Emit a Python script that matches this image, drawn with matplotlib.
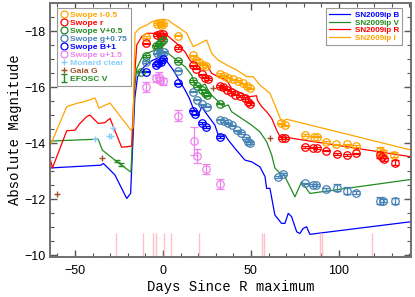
import matplotlib.pyplot as plt
from matplotlib.lines import Line2D
from matplotlib.ticker import MultipleLocator

# ---- SN2009ip light curves (lines) ----
B_day = [-64.2, -35.2, -33.9, -30.1, -27.3, -20.6, -18.4, -16.0, -14.5, -12.5, -9.5, -6.0, -2.5, 0.5,
         3.0, 5.9, 8.7, 12.5, 15.0, 17.2, 20.1, 22.0, 23.9, 26.7, 29.5, 31.4, 35.2, 37.1, 40.9, 46.6,
         50.4, 55.1, 58.0, 58.9, 60.8, 63.6, 67.4, 69.3, 71.2, 73.1, 76.0, 77.8, 79.7, 81.6, 83.5, 141]
B_mag = [-13.11, -13.21, -13.27, -13.04, -12.86, -12.02, -12.20, -15.6, -16.35, -16.6, -16.8, -16.95,
         -17.05, -17.05, -16.85, -16.6, -16.3, -15.9, -15.6, -15.24, -15.0, -15.30, -15.12, -14.88,
         -14.64, -14.29, -14.29, -14.11, -13.81, -13.39, -13.33, -13.15, -12.80, -12.38, -12.38, -11.43,
         -11.13, -11.13, -11.49, -11.37, -10.83, -10.77, -10.95, -11.01, -10.74, -11.19]

V_day = [-64.2, -36.8, -34.5, -27.3, -23.5, -18.2, -16.0, -14.9, -12.1, -9.3, -4.5, 0.2, 3.0, 7.8,
         12.5, 16.3, 18.2, 21.0, 23.9, 26.7, 29.5, 34.3, 37.1, 39.0, 44.7, 50.4, 55.1, 58.9, 61.8,
         63.6, 66.5, 68.4, 75.0, 78.8, 83.5, 141]
V_mag = [-14.07, -14.14, -13.75, -13.39, -13.21, -12.96, -16.0, -16.67, -17.03, -17.20, -17.32,
         -17.26, -17.20, -16.96, -16.73, -16.43, -16.07, -16.01, -16.11, -15.77, -15.60, -15.30,
         -15.36, -15.12, -14.88, -14.64, -14.40, -14.05, -13.57, -13.11, -12.92, -12.92, -12.08,
         -12.62, -12.20, -12.70]

R_day = [-64.2, -62.8, -54.7, -50.0, -47.2, -45.3, -43.4, -41.5, -36.8, -33.0, -30.1, -23.5, -17.8,
         -16.0, -14.9, -12.1, -9.3, -3.6, 0.2, 2.1, 7.8, 12.5, 15.3, 17.2, 24.8, 27.7, 31.4, 36.2,
         39.0, 44.7, 48.5, 53.2, 53.6, 56.1, 58.9, 61.8, 64.6, 66.5, 70.3, 141]
R_mag = [-13.46, -13.11, -14.44, -14.46, -14.70, -14.82, -14.94, -15.0, -14.70, -14.73, -14.88,
         -13.85, -13.89, -16.5, -17.50, -17.80, -17.92, -17.92, -17.92, -17.86, -17.56, -17.26,
         -16.96, -16.85, -16.81, -16.49, -16.37, -16.25, -15.95, -15.77, -15.65, -15.69, -15.54,
         -15.30, -15.12, -14.88, -14.46, -14.23, -14.20, -13.51]

I_day = [-64.2, -54.7, -48.3, -45.5, -38.6, -36.4, -30.1, -18.2, -17.0, -15.9, -13.1, -9.3, -6.4,
         -3.6, 0.2, 3.0, 5.9, 9.7, 13.5, 17.2, 24.8, 27.7, 31.4, 36.2, 41.9, 47.6, 51.3, 55.1, 60.8,
         63.6, 67.4, 70.3, 141]
I_mag = [-13.89, -15.30, -15.43, -15.46, -15.61, -15.25, -15.43, -14.46, -14.57, -17.93, -18.11,
         -18.21, -18.33, -18.39, -18.42, -18.39, -18.25, -18.10, -17.92, -17.44, -17.68, -17.20,
         -16.96, -16.79, -16.61, -16.37, -16.37, -16.07, -15.78, -15.36, -14.76, -14.85, -13.75]

# ---- Swope photometry (offset) ----
si_day = [-9.5, -3.2, -1.5, 0.0, -0.9, 8.6, 17.3, 19.0, 20.7, 22.7, 24.7, 32.4, 34.7, 37.1, 39.9,
          42.8, 45.6, 47.9, 49.3, 67.0, 69.3, 80.7, 85.8, 87.5, 92.6, 98.6, 104.4, 109.7, 123.3,
          125.0, 131.3]
si_mag = [-17.78, -18.25, -18.28, -18.25, -18.20, -17.84, -17.13, -16.98, -16.88, -16.80, -16.75,
          -16.46, -16.41, -16.34, -16.27, -16.21, -16.13, -16.03, -15.95, -14.70, -14.63, -14.29,
          -14.23, -14.23, -14.04, -13.95, -13.95, -13.89, -13.71, -13.66, -13.59]
si_err = [0.03] * 28 + [0.15, 0.08, 0.1]

sr_day = [-9.5, -3.2, -1.9, 0.0, -1.1, 8.6, 17.3, 19.0, 21.9, 23.9, 25.7, 32.4, 34.3, 36.5, 38.6,
          41.2, 44.0, 46.6, 48.6, 49.4, 67.4, 69.3, 80.7, 85.4, 87.3, 92.8, 98.7, 104.5, 109.7,
          123.6, 124.3, 125.6, 131.8]
sr_mag = [-17.56, -17.86, -17.89, -17.89, -17.80, -17.39, -16.77, -16.66, -16.45, -16.34, -16.29,
          -16.04, -15.99, -15.91, -15.82, -15.73, -15.68, -15.61, -15.48, -15.39, -14.17, -14.17,
          -13.86, -13.84, -13.82, -13.73, -13.61, -13.58, -13.63, -13.57, -13.51, -13.42, -13.30]
sr_err = [0.03] * 29 + [0.12, 0.05, 0.05, 0.08]

sV_day = [-12.3, -9.5, -3.8, -2.4, -1.0, 0.0, -3.1, 8.6, 17.3, 19.3, 22.4, 23.9, 25.3, 32.4]
sV_mag = [-16.55, -17.11, -17.48, -17.55, -17.62, -17.68, -17.43, -16.93, -16.21, -16.04, -15.91,
          -15.80, -15.70, -15.41]

sg_day = [-9.5, -3.2, -1.5, 0.6, -1.1, 8.6, 17.3, 19.6, 22.2, 24.8, 32.4, 34.7, 36.9, 39.5, 41.8,
          44.6, 47.2, 48.6, 49.4, 65.5, 68.4, 80.7, 85.4, 86.9, 92.6, 98.7, 104.7, 109.7, 123.3,
          125.2, 131.8]
sg_mag = [-16.90, -17.20, -17.23, -17.26, -17.18, -16.59, -15.84, -15.55, -15.38, -15.30, -14.84,
          -14.79, -14.70, -14.63, -14.45, -14.36, -14.18, -14.05, -13.99, -12.78, -12.89, -12.56,
          -12.50, -12.50, -12.35, -12.40, -12.30, -12.23, -11.94, -11.94, -11.94]
sg_err = [0.03] * 24 + [0.06, 0.12, 0.12, 0.06, 0.12, 0.06, 0.1]

sB_day = [-9.5, -4.1, -2.8, -1.0, 0.0, 8.6, 16.8, 18.2, 22.4, 24.4, 32.4]
sB_mag = [-16.55, -16.79, -16.85, -16.90, -16.99, -16.13, -15.16, -15.02, -14.71, -14.57, -14.21]

su_day = [-9.5, -3.8, -2.4, -1.5, 0.0, 8.7, 17.5, 19.5, 24.4, 32.6]
su_mag = [-15.99, -16.31, -16.37, -16.25, -16.21, -14.98, -14.07, -13.55, -13.06, -12.54]
su_err = [0.18, 0.12, 0.15, 0.1, 0.12, 0.2, 0.5, 0.25, 0.18, 0.18]

monard_day = [-38.6, -30.7, -29.5, -28.2]
monard_mag = [-14.16, -14.25, -14.25, -14.55]

gaia_day = [-60.0, -34.8, 28.2, 60.8]
gaia_mag = [-12.18, -13.45, -15.95, -14.17]

efosc_day = [-26.3, -23.9]
efosc_mag = [-13.36, -13.24]
efosc_err = [0.05, 0.05]

# spectral epochs
spec_day = [-26.7, -11.4, -5.7, -4.0, 0.6, 4.5, 20.5, 56.3, 57.4, 89.2, 90.3, 118.8]

C_I, C_R, C_V, C_G, C_B, C_U = 'orange', 'red', 'forestgreen', 'steelblue', 'blue', 'violet'
C_MON, C_GAIA = 'lightskyblue', 'sienna'

fig = plt.figure(figsize=(4.15, 2.97), dpi=100)
ax = fig.add_axes([0.1205, 0.1347, 0.870, 0.855])

lw = 0.9
ax.plot(B_day, B_mag, color=C_B, lw=lw, label='SN2009ip B')
ax.plot(V_day, V_mag, color=C_V, lw=lw, label='SN2009ip V')
ax.plot(R_day, R_mag, color=C_R, lw=lw, label='SN2009ip R')
ax.plot(I_day, I_mag, color=C_I, lw=lw, label='SN2009ip I')

ax.vlines(spec_day, -10.78, -9.9, color='pink', lw=1.0)

ms = 5.4
ekw = dict(fmt='o', mfc='none', ms=ms, mew=0.9, capsize=2.7, elinewidth=0.9, capthick=0.9)
ax.errorbar(si_day, si_mag, yerr=si_err, color=C_I, **ekw)
ax.errorbar(sr_day, sr_mag, yerr=sr_err, color=C_R, **ekw)
ax.errorbar(sV_day, sV_mag, yerr=[0.03] * len(sV_day), color=C_V, **ekw)
ax.errorbar(sg_day, sg_mag, yerr=sg_err, color=C_G, **ekw)
ax.errorbar(sB_day, sB_mag, yerr=[0.03] * len(sB_day), color=C_B, **ekw)
ax.errorbar(su_day, su_mag, yerr=su_err, color=C_U, **ekw)
ax.plot(monard_day, monard_mag, '+', color=C_MON, ms=5, mew=1.0)
ax.plot(gaia_day, gaia_mag, '+', color=C_GAIA, ms=5, mew=1.0)
efosc = ax.errorbar(efosc_day, efosc_mag, yerr=efosc_err, fmt='none', color=C_V,
                    capsize=2, elinewidth=1, capthick=1)

ax.set_xlim(-64.2, 141)
ax.set_ylim(-9.93, -19.0)
ax.xaxis.set_major_locator(MultipleLocator(50))
ax.xaxis.set_minor_locator(MultipleLocator(10))
ax.yaxis.set_major_locator(MultipleLocator(2))
ax.yaxis.set_minor_locator(MultipleLocator(0.5))
ax.tick_params(which='both', direction='in', top=True, right=True, color='#555555')
ax.tick_params(which='major', length=5, width=1)
ax.tick_params(which='minor', length=3, width=0.8)
ax.tick_params(axis='x', pad=6)
ax.tick_params(axis='y', pad=3)
for t in ax.get_xticklabels() + ax.get_yticklabels():
    t.set_fontfamily('Liberation Sans')
    t.set_fontsize(9)
for s in ax.spines.values():
    s.set_color('#707070')
    s.set_linewidth(1.4)

ax.set_xlabel('Days Since R maximum', family='Liberation Mono', fontsize=10, labelpad=2)
ax.set_ylabel('Absolute Magnitude', family='Liberation Mono', fontsize=10, labelpad=2)

# left legend (photometry)
names = ['Swope i-0.5', 'Swope r', 'Swope V+0.5', 'Swope g+0.75', 'Swope B+1', 'Swope u+1.5',
         'Monard clear', 'Gaia G', 'EFOSC V']
cols = [C_I, C_R, C_V, C_G, C_B, C_U, C_MON, C_GAIA, C_V]
handles = [Line2D([], [], ls='none', marker='o', mfc='none', mec=c, ms=5, mew=0.9) for c in cols[:6]]
handles += [Line2D([], [], ls='none', marker='+', color=C_MON, ms=5, mew=1.0),
            Line2D([], [], ls='none', marker='+', color=C_GAIA, ms=5, mew=1.0),
            efosc]
lprop = {'family': 'Liberation Sans', 'weight': 'bold', 'size': 6.1}
leg1 = ax.legend(handles, names, loc='upper left', bbox_to_anchor=(0.019, 0.98), borderaxespad=0,
                 prop=lprop, frameon=True, fancybox=False, edgecolor='#999999', framealpha=1,
                 handlelength=0.8, handletextpad=0.4, labelspacing=0.0, borderpad=0.4)
leg1.get_frame().set_linewidth(0.8)
for t, c in zip(leg1.get_texts(), cols):
    t.set_color(c)
ax.add_artist(leg1)

# right legend (lines)
line_handles = ax.get_lines()[:4]
lcols = [C_B, C_V, C_R, C_I]
leg2 = ax.legend(line_handles, ['SN2009ip B', 'SN2009ip V', 'SN2009ip R', 'SN2009ip I'],
                 loc='upper right', bbox_to_anchor=(0.975, 0.98), borderaxespad=0,
                 prop={'family': 'Liberation Sans', 'weight': 'bold', 'size': 5.8},
                 frameon=True, fancybox=False, edgecolor='#999999', framealpha=1,
                 handlelength=2.6, handletextpad=0.6, labelspacing=0.0, borderpad=0.4)
leg2.get_frame().set_linewidth(0.8)
for t, c in zip(leg2.get_texts(), lcols):
    t.set_color(c)

fig.savefig('out.png', dpi=100)
